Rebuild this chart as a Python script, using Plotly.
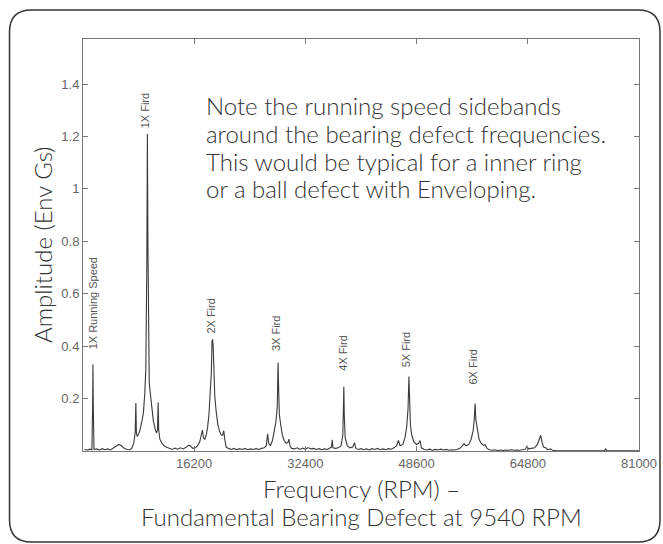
import plotly.graph_objects as go

# envelope spectrum (RPM, Env Gs)
freq_rpm = [
    200, 600, 1000, 1300, 1400, 1450, 1500, 1600, 2000, 2400, 2800, 3200, 3600, 4000,
    4400, 4800, 5200, 5600, 6000, 6400, 6800,
    7100, 7400, 7600, 7700, 7780, 7900, 8100, 8300, 8550, 8800, 9000, 9150, 9300,
    9380, 9460, 9540, 9650, 9850, 10050, 10250, 10500, 10700, 10850, 10950, 11030,
    11200, 11450, 11800, 12200,
    12600, 13000, 13400, 13800, 14200, 14600, 15000, 15400, 15700, 16000, 16400, 16700,
    17000, 17250, 17400, 17550, 17750, 17950, 18150, 18350, 18550, 18700, 18800, 18880,
    18960, 19050, 19200, 19400, 19650, 19900, 20150, 20350, 20500, 20650, 20850, 21200,
    21600, 22000, 22400, 22800, 23200, 23600, 24000, 24400, 24800, 25200, 25600, 26000, 26400,
    26700, 26900, 27050, 27300, 27600, 27850, 28100, 28300, 28420, 28500, 28600, 28800,
    29050, 29300, 29600, 29850, 30000, 30150, 30400,
    30800, 31200, 31600, 32000, 32400, 32800, 33200, 33600, 34000, 34400, 34800, 35200,
    35600, 36000,
    36200, 36310, 36420, 36800, 37200, 37600, 37850, 37950, 38000, 38060, 38200, 38500,
    38900, 39300, 39550, 39750, 40100,
    40500, 40900, 41300, 41700, 42100, 42500, 42900, 43300, 43700, 44100, 44500, 44900, 45300,
    45700, 45950, 46200, 46600, 46900, 47150, 47350, 47480, 47560, 47700, 47900, 48200,
    48600, 48900, 49100, 49300, 49700,
    50100, 50500, 50900, 51300, 51700, 52100, 52500, 52900, 53300, 53700, 54100, 54500, 54900,
    55200, 55500, 55800, 56200, 56550, 56850, 57000, 57120, 57230, 57450, 57700, 58000,
    58300, 58600, 58850, 59200,
    59600, 60000, 60400, 60800, 61200, 61600, 62000, 62400, 62800, 63200, 63600, 64000, 64400,
    64700, 64900, 65300, 65800, 66200, 66500, 66680, 66850, 67100, 67400, 67700, 68100, 68400,
    69000, 72000, 76000, 76150, 76300, 81000,
]
amp_env_gs = [
    0.006, 0.004, 0.007, 0.005, 0.17, 0.33, 0.17, 0.006, 0.008, 0.004, 0.009, 0.005, 0.008, 0.004,
    0.010, 0.018, 0.025, 0.020, 0.010, 0.006, 0.005,
    0.010, 0.030, 0.070, 0.183, 0.070, 0.055, 0.065, 0.080, 0.110, 0.145, 0.220, 0.310, 0.720,
    1.210, 0.780, 0.330, 0.260, 0.210, 0.150, 0.115, 0.085, 0.068, 0.080, 0.186, 0.080,
    0.045, 0.032, 0.020, 0.014,
    0.010, 0.006, 0.011, 0.007, 0.012, 0.008, 0.014, 0.022, 0.018, 0.010, 0.012, 0.020,
    0.035, 0.060, 0.080, 0.050, 0.045, 0.060, 0.090, 0.140, 0.220, 0.300, 0.420, 0.426,
    0.400, 0.290, 0.210, 0.150, 0.100, 0.075, 0.060, 0.060, 0.078, 0.045, 0.015, 0.010,
    0.006, 0.010, 0.005, 0.009, 0.006, 0.010, 0.005, 0.008, 0.006, 0.009, 0.006, 0.010, 0.012,
    0.020, 0.066, 0.030, 0.020, 0.040, 0.075, 0.110, 0.170, 0.338, 0.240, 0.140, 0.100,
    0.060, 0.040, 0.030, 0.032, 0.045, 0.020, 0.010,
    0.008, 0.012, 0.006, 0.011, 0.007, 0.013, 0.008, 0.010, 0.006, 0.009, 0.005, 0.008,
    0.006, 0.010,
    0.015, 0.043, 0.012, 0.010, 0.012, 0.020, 0.060, 0.180, 0.245, 0.140, 0.050, 0.020,
    0.012, 0.015, 0.032, 0.010, 0.006,
    0.009, 0.005, 0.008, 0.004, 0.009, 0.006, 0.010, 0.005, 0.008, 0.005, 0.009, 0.007, 0.012,
    0.020, 0.040, 0.020, 0.025, 0.050, 0.090, 0.160, 0.284, 0.220, 0.100, 0.060, 0.035,
    0.025, 0.030, 0.040, 0.012, 0.006,
    0.004, 0.007, 0.003, 0.006, 0.004, 0.007, 0.004, 0.006, 0.003, 0.005, 0.004, 0.006, 0.010,
    0.018, 0.028, 0.020, 0.025, 0.045, 0.080, 0.120, 0.181, 0.120, 0.075, 0.045, 0.030,
    0.022, 0.024, 0.010, 0.005,
    0.003, 0.005, 0.002, 0.004, 0.002, 0.004, 0.003, 0.005, 0.003, 0.004, 0.003, 0.005, 0.006,
    0.018, 0.008, 0.010, 0.012, 0.025, 0.045, 0.060, 0.035, 0.015, 0.012, 0.005, 0.008, 0.003,
    0.001, 0.001, 0.002, 0.008, 0.001, 0.001,
]

# peak labels (text, frequency, amplitude at bottom of label)
peak_labels = ["1X Running Speed", "1X Fird", "2X Fird", "3X Fird", "4X Fird", "5X Fird", "6X Fird"]
peak_label_x = [1450, 9160, 18710, 28100, 37850, 47070, 56850]
peak_label_y = [0.38, 1.225, 0.44, 0.375, 0.30, 0.31, 0.245]

x_ticks = [16200, 32400, 48600, 64800, 81000]
x_ticktext = ["16200", "32400", "48600", "64800", "81000"]
y_ticks = [0.2, 0.4, 0.6, 0.8, 1.0, 1.2, 1.4]
y_ticktext = ["0.2", "0.4", "0.6", "0.8", "1", "1.2", "1.4"]

note_lines = ["Note the running speed sidebands",
              "around the bearing defect frequencies.",
              "This would be typical for a inner ring",
              "or a ball defect with Enveloping."]
xtitle_lines = ["Frequency (RPM) –", "Fundamental Bearing Defect at 9540 RPM"]

W, H = 663, 544
L, R, T, B = 83, 24, 39, 93
TEXT_FONT = dict(family="Lato", size=24, color="#333", weight=300)


def px(x):
    return (x - L) / (W - L - R)


def py(y):
    return (H - B - y) / (H - T - B)


fig = go.Figure()
fig.add_trace(go.Scatter(
    x=freq_rpm, y=amp_env_gs, mode="lines",
    line=dict(color="#3a3a3a", width=1.1),
    showlegend=False, hoverinfo="skip",
))

for txt, fx, fy in zip(peak_labels, peak_label_x, peak_label_y):
    fig.add_annotation(x=fx, y=fy, text=txt, showarrow=False, textangle=-90,
                       xanchor="center", yanchor="bottom",
                       font=dict(family="Liberation Sans", size=11, color="#555"))

# note text, one annotation per line to keep the tight line spacing
for i, line in enumerate(note_lines):
    fig.add_annotation(x=px(204), y=py(105 + 28 * i), xref="paper", yref="paper",
                       text=line, showarrow=False, xanchor="left", yanchor="middle",
                       font=TEXT_FONT)

for i, line in enumerate(xtitle_lines):
    fig.add_annotation(x=0.5, y=py(488 + 28 * i), xref="paper", yref="paper",
                       text=line, showarrow=False, xanchor="center", yanchor="middle",
                       font=TEXT_FONT)

fig.add_annotation(x=px(42), y=0.5, xref="paper", yref="paper",
                   text="Amplitude (Env Gs)", textangle=-90, showarrow=False,
                   xanchor="center", yanchor="middle", font=TEXT_FONT)

# rounded frame around the whole picture
x0, x1, y0, y1, rr = 9.5, 660, 10, 542, 22
path = (f"M {px(x0)} {py(y0 + rr)} Q {px(x0)} {py(y0)} {px(x0 + rr)} {py(y0)} "
        f"L {px(x1 - rr)} {py(y0)} Q {px(x1)} {py(y0)} {px(x1)} {py(y0 + rr)} "
        f"L {px(x1)} {py(y1 - rr)} Q {px(x1)} {py(y1)} {px(x1 - rr)} {py(y1)} "
        f"L {px(x0 + rr)} {py(y1)} Q {px(x0)} {py(y1)} {px(x0)} {py(y1 - rr)} Z")
fig.add_shape(type="path", path=path, xref="paper", yref="paper",
              line=dict(color="#333", width=1.5), layer="above")

fig.update_xaxes(range=[0, 81000], tickvals=x_ticks, ticktext=x_ticktext,
                 ticks="inside", ticklen=5, automargin=False,
                 tickcolor="#777", showline=True, linecolor="#777", linewidth=1,
                 mirror="ticks", showgrid=False, zeroline=False,
                 tickfont=dict(family="Liberation Sans", size=13, color="#666"))
fig.update_yaxes(range=[0, 1.572], tickvals=y_ticks, ticktext=y_ticktext,
                 ticks="inside", ticklen=5, tickcolor="#777", showline=True,
                 linecolor="#777", linewidth=1, mirror="ticks", showgrid=False,
                 zeroline=False, automargin=False,
                 tickfont=dict(family="Liberation Sans", size=13, color="#666"))

fig.update_layout(width=W, height=H, margin=dict(l=L, r=R, t=T, b=B, autoexpand=False),
                  plot_bgcolor="white", paper_bgcolor="white")

# drop the default page margin so the figure sits at the window corner
fig.write_html("out.html", config={"displayModeBar": False},
               post_script="document.body.style.margin = '0';")
